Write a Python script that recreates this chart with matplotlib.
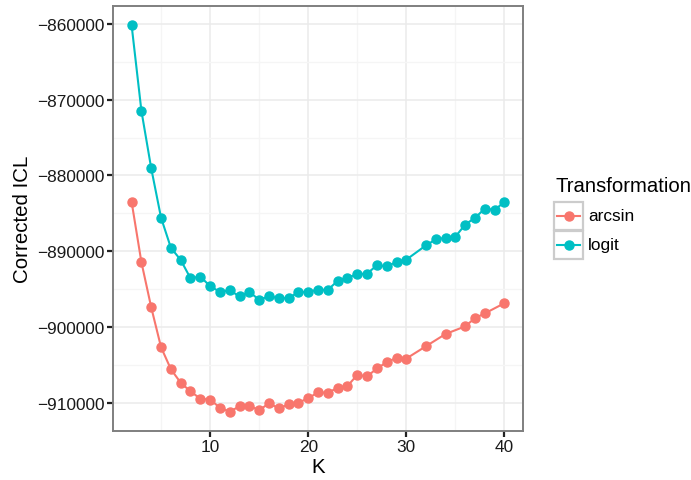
import numpy as np
import matplotlib.pyplot as plt
from matplotlib.patches import Rectangle
from matplotlib.lines import Line2D

plt.rcParams['font.family'] = ['Liberation Sans', 'DejaVu Sans']

# ICL per number of clusters, one series per transformation
k_arcsin = [2, 3, 4, 5, 6, 7, 8, 9, 10, 11, 12, 13, 14, 15, 16, 17, 18, 19, 20,
            21, 22, 23, 24, 25, 26, 27, 28, 29, 30, 32, 34, 36, 37, 38, 40]
icl_arcsin = [-883490, -891450, -897400, -902650, -905540, -907330, -908470,
              -909430, -909560, -910620, -911140, -910440, -910350, -910960,
              -910040, -910700, -910180, -909960, -909370, -908600, -908650,
              -908000, -907770, -906290, -906500, -905450, -904620, -904050,
              -904140, -902520, -900900, -899900, -898800, -898190, -896840]

k_logit = [2, 3, 4, 5, 6, 7, 8, 9, 10, 11, 12, 13, 14, 15, 16, 17, 18, 19, 20,
           21, 22, 23, 24, 25, 26, 27, 28, 29, 30, 32, 33, 34, 35, 36, 37, 38,
           39, 40]
icl_logit = [-860200, -871500, -879070, -885570, -889530, -891140, -893550,
             -893330, -894600, -895350, -895130, -895960, -895350, -896400,
             -895920, -896180, -896180, -895390, -895330, -895080, -895080,
             -893900, -893460, -893030, -892940, -891850, -891980, -891410,
             -891100, -889220, -888430, -888210, -888080, -886470, -885590,
             -884370, -884540, -883490]

series = [('arcsin', k_arcsin, icl_arcsin, '#F8766D'),
          ('logit', k_logit, icl_logit, '#00BFC4')]

fig = plt.figure(figsize=(6.91, 4.81), dpi=100)
ax = fig.add_axes([0.1635, 0.102, 0.5935, 0.8835])

for name, k, icl, col in series:
    ax.plot(k, icl, color=col, lw=1.5, marker='o', ms=6.5, mec=col, zorder=3)

ax.set_xticks([10, 20, 30, 40])
ax.set_xticks([5, 15, 25, 35], minor=True)
ax.set_yticks(np.arange(-910000, -859999, 10000))
ax.set_yticks(np.arange(-905000, -854999, 10000), minor=True)
ax.set_yticklabels(['\u2212%d' % abs(v) for v in ax.get_yticks()])

# ggplot-like expansion of 5% on both axes (after ticks, which can widen limits)
allk = k_arcsin + k_logit
ally = icl_arcsin + icl_logit
dx = 0.05 * (max(allk) - min(allk))
dy = 0.05 * (max(ally) - min(ally))
ax.set_xlim(min(allk) - dx, max(allk) + dx)
ax.set_ylim(min(ally) - dy, max(ally) + dy)

ax.grid(which='major', color='#ebebeb', lw=1.1, zorder=0)
ax.grid(which='minor', color='#f5f5f5', lw=1.0, zorder=0)
ax.set_axisbelow(True)
ax.tick_params(which='major', length=4, width=1.6, color='#222222',
               labelsize=12.4, labelcolor='#1a1a1a', pad=2)
ax.tick_params(which='minor', length=0)
for sp in ax.spines.values():
    sp.set_color('#7f7f7f')
    sp.set_linewidth(1.4)

ax.set_xlabel('K', fontsize=14.8, labelpad=2)
ax.set_ylabel('Corrected ICL', fontsize=14.8, labelpad=3.5)

# legend with boxed keys
fig.text(555 / 691, 1 - 187 / 481, 'Transformation', fontsize=14.6,
         va='center', ha='left')
for i, (name, k, icl, col) in enumerate(series):
    y0 = 203 + i * 29
    fig.add_artist(Rectangle((554 / 691, 1 - (y0 + 28) / 481), 29 / 691, 28 / 481,
                             transform=fig.transFigure, fc='white',
                             ec='#cccccc', lw=1.6))
    yc = 1 - (y0 + 14) / 481
    fig.add_artist(Line2D([557 / 691, 580 / 691], [yc, yc], color=col, lw=1.5,
                          transform=fig.transFigure))
    fig.add_artist(Line2D([568.5 / 691], [yc], color=col, marker='o', ms=6.5,
                          transform=fig.transFigure))
    fig.text(588 / 691, yc, name, fontsize=12.4, va='center', ha='left')

fig.savefig('out.png', dpi=100)
